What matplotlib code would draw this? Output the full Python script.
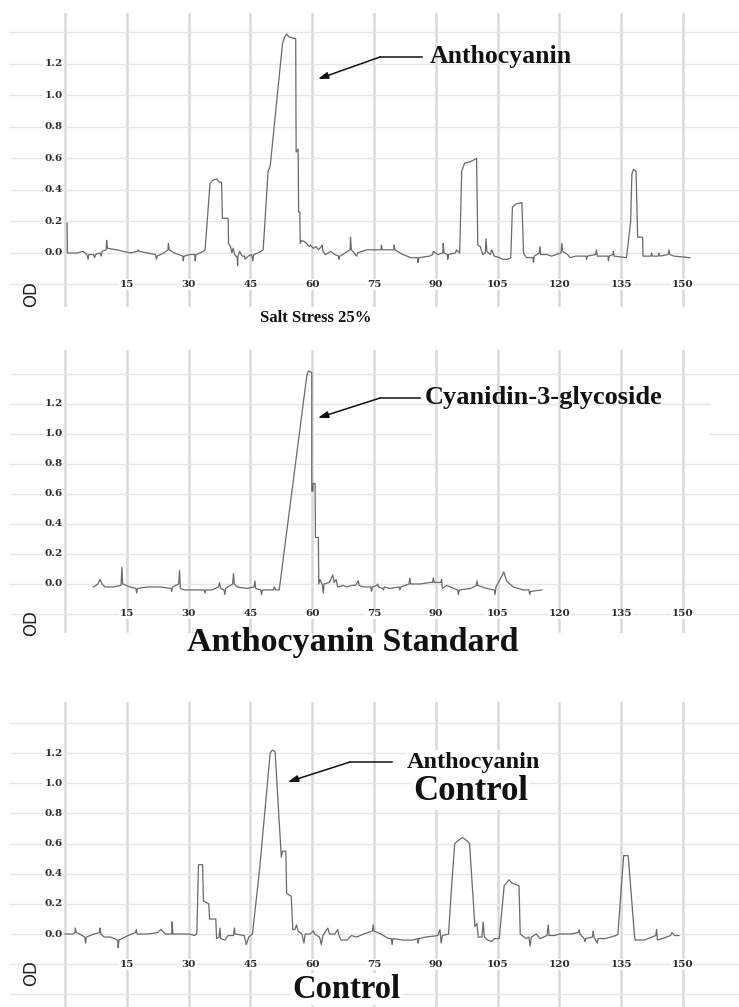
import matplotlib.pyplot as plt

plt.rcParams['font.family'] = ['Liberation Serif', 'DejaVu Serif']

# retention time (min) vs OD for the three HPLC runs
salt_trace = [
    (0.5, 0.19), (0.6, 0.0), (3.0, 0.0), (4.4, 0.01), (5.3, -0.01), (5.6, -0.04), (5.8, -0.01),
    (6.9, -0.01), (7.2, -0.03), (7.4, -0.01), (8.5, 0.0), (8.8, -0.02), (9.0, 0.01), (10.0, 0.02),
    (10.1, 0.08), (10.3, 0.03), (12.5, 0.02), (15.8, 0.0), (17.6, 0.01), (17.8, 0.02), (18.0, 0.01),
    (20.0, 0.0), (22.0, -0.01), (22.2, -0.04), (22.4, -0.02), (24.0, 0.0), (25.0, 0.02), (25.1, 0.06),
    (25.3, 0.02), (26.5, 0.0), (28.6, -0.02), (28.7, -0.05), (28.9, -0.02), (30.3, -0.01), (31.5, -0.01),
    (31.6, -0.05), (31.8, -0.01), (32.8, 0.0), (33.6, 0.01), (34.0, 0.02), (35.2, 0.44), (35.8, 0.46),
    (36.8, 0.47), (37.4, 0.45), (38.0, 0.45), (38.2, 0.22), (39.6, 0.22), (39.7, 0.06), (40.2, 0.04),
    (40.5, 0.0), (40.8, 0.03), (41.2, -0.01), (41.8, -0.03), (41.9, -0.08), (42.0, -0.02), (42.4, 0.01),
    (43.0, -0.02), (43.6, -0.02), (43.7, -0.04), (44.5, -0.02), (45.3, -0.01), (45.6, -0.05), (45.8, -0.01),
    (46.9, 0.0), (48.1, 0.02), (49.3, 0.52), (49.8, 0.55), (52.8, 1.33), (53.3, 1.37), (53.8, 1.39),
    (54.4, 1.37), (56.0, 1.36), (56.1, 0.64), (56.6, 0.66), (56.7, 0.26), (57.0, 0.26), (57.1, 0.06),
    (57.4, 0.08), (58.2, 0.07), (58.7, 0.06), (59.3, 0.04), (59.6, 0.05), (60.2, 0.03), (61.0, 0.04),
    (61.5, 0.02), (62.2, 0.04), (62.4, 0.05), (62.6, 0.01), (63.2, -0.01), (64.0, 0.0), (64.5, 0.01),
    (65.5, -0.01), (66.4, -0.02), (66.5, -0.04), (66.7, -0.02), (68.0, 0.0), (69.2, 0.02), (69.3, 0.1),
    (69.5, 0.02), (70.2, 0.0), (70.8, -0.02), (71.0, 0.0), (73.2, 0.02), (76.7, 0.02), (76.8, 0.05),
    (77.0, 0.02), (79.8, 0.02), (79.9, 0.05), (80.1, 0.02), (82.0, -0.01), (84.0, -0.03), (85.6, -0.03),
    (85.7, -0.06), (85.9, -0.03), (88.5, -0.02), (89.2, -0.01), (89.4, 0.01), (90.5, -0.01), (91.7, 0.0),
    (91.8, 0.06), (92.0, 0.0), (92.8, -0.01), (92.9, -0.04), (93.1, -0.01), (94.8, 0.0), (95.0, 0.02),
    (95.8, 0.0), (96.3, 0.52), (97.0, 0.57), (98.5, 0.58), (99.9, 0.6), (100.2, 0.05), (100.8, 0.04),
    (101.4, -0.01), (102.0, 0.0), (102.2, 0.09), (102.4, 0.01), (103.2, -0.01), (103.6, 0.02),
    (104.2, -0.02), (105.5, -0.03), (106.2, -0.04), (107.5, -0.04), (108.2, -0.03), (108.6, 0.29),
    (109.4, 0.31), (110.9, 0.32), (111.3, 0.0), (112.0, -0.03), (113.6, -0.03), (113.7, -0.06),
    (113.9, -0.02), (115.1, 0.0), (115.3, 0.04), (115.5, -0.01), (117.0, -0.01), (118.1, -0.02),
    (120.4, 0.0), (120.6, 0.06), (120.8, 0.01), (122.0, -0.01), (122.6, -0.03), (124.0, -0.02),
    (126.5, -0.02), (126.6, -0.04), (126.8, -0.02), (128.8, -0.01), (129.0, 0.02), (129.2, -0.02),
    (131.8, -0.02), (131.9, -0.05), (132.1, -0.02), (133.0, -0.01), (133.1, 0.01), (133.3, -0.02),
    (136.3, -0.03), (137.3, 0.2), (137.6, 0.5), (138.0, 0.53), (138.6, 0.52), (139.0, 0.1),
    (140.2, 0.1), (140.3, -0.02), (142.2, -0.02), (142.4, 0.0), (142.6, -0.02), (144.0, -0.02),
    (144.2, 0.0), (144.4, -0.02), (146.4, -0.01), (146.6, 0.02), (146.8, -0.01), (147.8, -0.02),
    (151.7, -0.03),
]

standard_trace = [
    (6.9, -0.02), (8.0, 0.0), (8.5, 0.03), (9.0, 0.0), (9.7, -0.02), (11.7, -0.02), (13.6, -0.01),
    (13.8, 0.11), (14.0, 0.0), (15.8, -0.02), (17.2, -0.03), (17.4, -0.06), (17.6, -0.03), (19.8, -0.02),
    (23.1, -0.02), (25.7, -0.03), (25.9, -0.05), (26.1, -0.02), (27.6, 0.0), (27.8, 0.09), (28.0, -0.03),
    (29.0, -0.04), (31.1, -0.04), (33.8, -0.04), (34.0, -0.06), (34.2, -0.04), (35.6, -0.04),
    (37.3, -0.02), (37.5, 0.01), (37.8, -0.03), (38.6, -0.04), (38.8, -0.07), (39.0, -0.03),
    (40.1, -0.01), (40.7, 0.0), (40.9, 0.07), (41.1, 0.0), (41.8, -0.02), (44.1, -0.03), (45.9, -0.02),
    (46.1, 0.02), (46.3, -0.03), (47.5, -0.04), (47.7, -0.07), (47.9, -0.04), (49.0, -0.04),
    (50.6, -0.04), (50.8, -0.02), (51.2, -0.04), (52.0, -0.04), (58.7, 1.39), (59.1, 1.42),
    (59.9, 1.41), (59.9, 0.62), (60.2, 0.62), (60.2, 0.67), (60.7, 0.67), (60.8, 0.31), (61.5, 0.31),
    (61.6, 0.0), (61.9, 0.03), (62.5, -0.01), (62.7, -0.06), (62.9, 0.0), (64.2, 0.01), (65.0, 0.06),
    (65.3, 0.01), (65.8, 0.03), (66.2, -0.02), (67.5, -0.01), (68.4, -0.02), (69.6, -0.01),
    (70.4, -0.01), (71.0, 0.01), (71.2, 0.02), (71.4, -0.01), (72.4, -0.02), (74.2, -0.02),
    (74.4, -0.05), (74.6, -0.02), (75.7, -0.01), (75.9, 0.0), (76.1, -0.02), (77.1, -0.03),
    (77.3, -0.04), (77.5, -0.02), (78.9, -0.03), (81.1, -0.02), (81.3, -0.04), (81.5, -0.02),
    (83.5, 0.0), (83.7, 0.04), (83.9, 0.0), (86.2, 0.0), (88.6, 0.01), (89.2, 0.01), (89.4, 0.04),
    (89.6, 0.01), (91.2, 0.01), (91.4, 0.03), (91.6, -0.03), (92.6, -0.01), (95.3, -0.04), (95.5, -0.07),
    (95.7, -0.04), (98.5, -0.03), (99.8, -0.01), (100.0, 0.02), (100.2, -0.01), (102.4, -0.03),
    (104.2, -0.04), (104.4, -0.07), (104.6, -0.02), (105.6, 0.03), (106.5, 0.08), (107.2, 0.02),
    (108.8, -0.02), (111.2, -0.04), (112.6, -0.04), (112.8, -0.07), (113.0, -0.05), (115.7, -0.04),
]

control_trace = [
    (0.0, 0.0), (2.0, 0.0), (2.4, 0.01), (2.5, 0.04), (2.7, 0.01), (3.5, 0.0), (4.8, -0.02), (5.0, -0.06),
    (5.2, -0.02), (7.0, 0.0), (8.4, 0.01), (8.5, 0.04), (8.7, 0.0), (9.5, -0.02), (11.0, -0.02),
    (12.8, -0.04), (12.9, -0.09), (13.1, -0.04), (15.3, -0.01), (17.1, 0.01), (17.3, 0.03), (17.5, 0.0),
    (20.3, 0.0), (22.5, 0.01), (23.3, 0.03), (24.0, 0.01), (24.5, 0.0), (25.9, 0.0), (26.0, 0.08),
    (26.2, 0.0), (30.2, 0.0), (31.4, -0.01), (32.0, 0.0), (32.4, 0.46), (33.4, 0.46), (33.6, 0.22),
    (34.9, 0.2), (35.1, 0.1), (36.6, 0.1), (36.8, -0.03), (37.4, -0.02), (37.6, 0.04), (37.8, -0.03),
    (38.8, -0.04), (39.6, -0.01), (40.9, -0.01), (41.1, 0.04), (41.3, 0.0), (43.5, -0.01), (44.0, -0.07),
    (44.6, -0.02), (45.5, 0.0), (47.2, 0.42), (49.8, 1.2), (50.3, 1.22), (51.0, 1.21), (52.5, 0.51),
    (52.8, 0.55), (53.6, 0.55), (53.8, 0.27), (54.9, 0.25), (55.3, 0.03), (55.8, 0.03), (56.2, 0.06),
    (56.6, 0.02), (57.5, 0.0), (58.0, -0.06), (58.3, 0.0), (59.5, 0.0), (60.2, 0.02), (60.6, 0.0),
    (61.8, -0.02), (62.2, -0.07), (62.6, -0.01), (63.8, 0.04), (64.2, 0.0), (65.5, 0.0), (66.2, 0.03),
    (66.5, -0.01), (67.0, -0.04), (68.5, -0.04), (69.5, -0.01), (70.8, -0.02), (72.5, 0.0),
    (74.6, 0.02), (74.8, 0.06), (75.0, 0.02), (76.7, 0.0), (78.5, -0.03), (79.2, -0.03), (79.4, -0.07),
    (79.6, -0.03), (82.0, -0.04), (84.5, -0.04), (85.6, -0.03), (85.7, -0.06), (85.9, -0.03),
    (87.6, -0.02), (90.5, -0.01), (91.0, 0.03), (91.3, -0.06), (91.6, -0.01), (93.1, 0.0), (93.8, 0.3),
    (94.6, 0.6), (95.4, 0.62), (96.5, 0.64), (97.5, 0.62), (98.2, 0.6), (99.5, 0.05), (100.0, 0.07),
    (100.3, -0.02), (101.2, -0.02), (101.5, 0.08), (101.8, -0.02), (102.6, -0.04), (103.5, -0.05),
    (104.3, -0.03), (105.4, -0.03), (106.6, 0.32), (107.8, 0.36), (108.4, 0.34), (110.2, 0.32),
    (110.5, 0.0), (111.9, -0.03), (112.6, -0.02), (112.9, -0.08), (113.2, -0.02), (114.4, 0.0),
    (115.3, -0.03), (117.0, -0.01), (117.3, 0.06), (117.5, -0.01), (118.8, -0.01), (120.0, 0.0),
    (122.8, 0.0), (124.6, 0.01), (124.8, 0.03), (125.0, 0.0), (126.0, -0.03), (126.2, -0.05),
    (126.4, -0.03), (128.0, -0.02), (128.2, 0.02), (128.4, -0.02), (129.2, -0.06), (129.4, -0.03),
    (131.2, -0.03), (133.7, -0.01), (134.2, 0.0), (135.0, 0.3), (135.6, 0.52), (136.7, 0.52),
    (138.2, 0.0), (138.4, -0.04), (140.6, -0.04), (142.5, -0.02), (143.4, -0.01), (143.6, 0.03),
    (143.8, -0.04), (145.0, -0.03), (147.0, -0.01), (147.3, 0.01), (148.0, -0.01), (149.0, -0.01),
]

time_ticks = [15, 30, 45, 60, 75, 90, 105, 120, 135, 150]
od_ticks = [0.0, 0.2, 0.4, 0.6, 0.8, 1.0, 1.2]

W, H = 739, 1007
fig = plt.figure(figsize=(W / 100, H / 100), dpi=100)

TRACE = '#6a6a6a'
VGRID = '#d9d9d9'
HGRID = '#e6e6e6'
tick_font = dict(fontsize=7.5, fontweight='bold', color='#2a2a2a', family='DejaVu Serif',
                 bbox=dict(facecolor='white', edgecolor='none', pad=0.6))


def add_panel(top, bottom, ylim, hlines):
    ax = fig.add_axes([10 / W, 1 - bottom / H, (W - 10) / W, (bottom - top) / H])
    ax.set_xlim(-13.35, 163.6)
    ax.set_ylim(*ylim)
    ax.axis('off')
    for x in [0] + time_ticks:
        ax.axvline(x, color=VGRID, lw=1.8, zorder=1)
    for y in hlines:
        ax.axhline(y, color=HGRID, lw=1.0, zorder=1)
    for y in od_ticks:
        ax.text(-0.6, y, f'{y:.1f}', ha='right', va='center', zorder=2, **tick_font)
    for x in time_ticks:
        ax.text(x, -0.2, str(x), ha='center', va='center', zorder=2, **tick_font)
    ax.text(-8.3, -0.26, 'OD', rotation=90, ha='center', va='center',
            fontsize=12, family='DejaVu Sans', color='#222')
    return ax


def pointer(ax, label, head, elbow, end, text_x, size, boxed=False):
    ax.plot([elbow[0], end], [elbow[1], elbow[1]], color='#111', lw=1.1, zorder=4)
    ax.annotate('', xy=head, xytext=elbow,
                arrowprops=dict(arrowstyle='-|>,head_length=0.6,head_width=0.2',
                                color='#111', lw=1.1, shrinkA=0, shrinkB=0), zorder=4)
    kw = dict(bbox=dict(facecolor='white', edgecolor='none', pad=1)) if boxed else {}
    ax.text(text_x, elbow[1], label, ha='left', va='center', fontsize=size,
            fontweight='bold', color='#111', zorder=5, **kw)


ticks_up = [-0.2, 0.0, 0.2, 0.4, 0.6, 0.8, 1.0, 1.2, 1.4]

# salt stress 25%
ax1 = add_panel(13, 307, (-0.343, 1.523), ticks_up)
t, od = zip(*salt_trace)
ax1.plot(t, od, color=TRACE, lw=0.9, zorder=3)
pointer(ax1, 'Anthocyanin', (61.4, 1.104), (76.5, 1.244), 86.7, 88.6, 18.5)

# anthocyanin standard
ax2 = add_panel(350, 633, (-0.327, 1.56), [-0.2, 0.0, 0.2, 0.4, 0.6, 0.8, 1.4])
ax2.axhline(1.2, xmin=0, xmax=0.96, color=HGRID, lw=1.0, zorder=1)
ax2.axhline(1.0, xmin=0, xmax=0.576, color=HGRID, lw=1.0, zorder=1)
ax2.axhline(1.0, xmin=0.96, xmax=1, color=HGRID, lw=1.0, zorder=1)
t, od = zip(*standard_trace)
ax2.plot(t, od, color=TRACE, lw=0.9, zorder=3)
pointer(ax2, 'Cyanidin-3-glycoside', (61.4, 1.107), (76.5, 1.24), 86.2, 87.4, 19)

# control
ax3 = add_panel(702, 1007, (-0.484, 1.539), [-0.4] + ticks_up)
t, od = zip(*control_trace)
ax3.plot(t, od, color=TRACE, lw=0.9, zorder=3)
pointer(ax3, 'Anthocyanin', (54.1, 1.009), (69.2, 1.141), 79.4, 83.0, 17.5, boxed=True)
ax3.text(84.5, 0.944, 'Control', ha='left', va='center', fontsize=25, fontweight='bold',
         color='#111', zorder=5, bbox=dict(facecolor='white', edgecolor='none', pad=1))

fig.text(315.5 / W, 1 - 318 / H, 'Salt Stress 25%', ha='center', va='center',
         fontsize=12, fontweight='bold', color='#111')
fig.text(352.5 / W, 1 - 642 / H, 'Anthocyanin Standard', ha='center', va='center',
         fontsize=24.5, fontweight='bold', color='#111')
fig.text(346 / W, 1 - 989 / H, 'Control', ha='center', va='center', fontsize=23.5,
         fontweight='bold', color='#111', zorder=10,
         bbox=dict(facecolor='white', edgecolor='none', pad=0.5))

fig.savefig('out.png', dpi=100)
